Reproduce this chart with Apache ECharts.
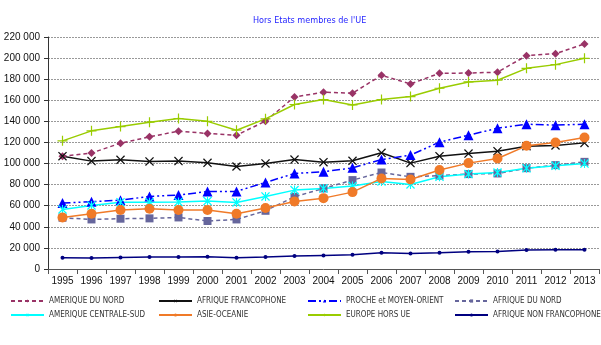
<!DOCTYPE html>
<html>
<head>
<meta charset="utf-8">
<script src="https://cdn.jsdelivr.net/npm/echarts@6/dist/echarts.min.js"></script>
<style>
  html, body { margin: 0; padding: 0; background: #fff; }
  #chart { width: 601px; height: 345px; }
</style>
</head>
<body>
<div id="chart"></div>
<script>
// Years on the x axis
const years = ['1995','1996','1997','1998','1999','2000','2001','2002','2003','2004',
               '2005','2006','2007','2008','2009','2010','2011','2012','2013'];

// Series values, one array per region
const ameriqueNord = [107000,110000,119300,125300,130700,128500,126900,140200,163200,167600,
                      166700,183700,175500,185600,185800,186600,202300,204200,213400];
const afriqueFranco = [107000,102300,103500,102000,102300,100700,97200,100100,103800,101300,
                       102600,110200,100400,107000,109500,111700,116500,117100,119600];
const procheMoyenOrient = [62500,63800,65300,68800,70100,73500,73600,82100,90600,92200,
                           95900,103800,108000,120300,126900,133500,137300,136400,137300];
const afriqueNord = [48600,47000,47700,48000,48900,45500,47000,55200,68500,76400,
                     84300,91500,87400,88500,90000,90600,95600,98500,101600];
const ameriqueCentraleSud = [56500,60300,63400,63400,63600,64400,63100,68800,74800,76400,
                             78600,83000,80200,87400,90000,91500,95600,97900,100000];
const asieOceanie = [48900,52400,55900,57100,55900,55900,52400,57800,64100,67200,
                     72900,85900,84900,93800,100400,104800,116800,120000,124700];
const europeHorsUE = [121500,131000,135100,139200,142700,140000,131600,142400,156000,160700,
                      155600,160700,163500,171400,177400,179000,190300,193800,199800];
const afriqueNonFranco = [10700,10400,11000,11400,11400,11700,10700,11400,12300,12900,
                          13600,15500,14800,15500,16400,16700,18000,18300,18300];

// Y axis ticks
const yMin = 0, yMax = 220000, yStep = 20000;

const seriesNames = ['AMERIQUE DU NORD','AFRIQUE FRANCOPHONE','PROCHE et MOYEN-ORIENT','AFRIQUE DU NORD',
                     'AMERIQUE CENTRALE-SUD','ASIE-OCEANIE','EUROPE HORS UE','AFRIQUE NON FRANCOPHONE'];

// Marker shapes
const crossPath = 'path://M0,1L1,0L5,4L9,0L10,1L6,5L10,9L9,10L5,6L1,10L0,9L4,5Z';
const starPath = 'path://M0,1L1,0L5,4L9,0L10,1L6,5L10,9L9,10L5,6L1,10L0,9L4,5Z M4.4,0L5.6,0L5.6,10L4.4,10Z';
const plusPath = 'path://M4.4,0L5.6,0L5.6,4.4L10,4.4L10,5.6L5.6,5.6L5.6,10L4.4,10L4.4,5.6L0,5.6L0,4.4L4.4,4.4Z';

const condFont = '"DejaVu Sans Condensed", "Liberation Sans", sans-serif';

const fmt = v => String(v).replace(/\B(?=(\d{3})+(?!\d))/g, ' ');

function line(name, data, color, opts) {
  return Object.assign({
    name: name,
    type: 'line',
    data: data,
    symbol: 'circle',
    symbolSize: 6,
    showAllSymbol: true,
    lineStyle: { color: color, width: 1.5, type: 'solid' },
    itemStyle: { color: color },
    emphasis: { disabled: true },
    animation: false
  }, opts);
}

const series = [
  line(seriesNames[0], ameriqueNord, '#993366', { symbol: 'diamond', symbolSize: 8,
       lineStyle: { color: '#993366', width: 1.5, type: [4, 3] } }),
  line(seriesNames[1], afriqueFranco, '#111111', { symbol: crossPath, symbolSize: 9 }),
  line(seriesNames[2], procheMoyenOrient, '#0000FF', { symbol: 'triangle', symbolSize: 10,
       lineStyle: { color: '#0000FF', width: 1.5, type: [8, 3, 2, 3, 2, 3] } }),
  line(seriesNames[3], afriqueNord, '#66669C', { symbol: 'rect', symbolSize: 8,
       lineStyle: { color: '#66669C', width: 1.5, type: [4, 3] } }),
  line(seriesNames[4], ameriqueCentraleSud, '#00FFFF', { symbol: starPath, symbolSize: 9 }),
  line(seriesNames[5], asieOceanie, '#F07A28', { symbol: 'circle', symbolSize: 10 }),
  line(seriesNames[6], europeHorsUE, '#99CC00', { symbol: plusPath, symbolSize: 10 }),
  line(seriesNames[7], afriqueNonFranco, '#000080', { symbol: 'circle', symbolSize: 4 })
];

// Legend in 4 columns, 2 rows
const legendPos = [
  [10, 297], [158, 297], [307, 297], [454, 297],
  [10, 311], [158, 311], [307, 311], [454, 311]
];
const legends = seriesNames.map((name, i) => ({
  data: [name],
  left: legendPos[i][0],
  top: legendPos[i][1],
  itemWidth: 33,
  itemHeight: 4,
  padding: 0,
  textStyle: { fontFamily: condFont, fontSize: 8, color: '#333' },
  selectedMode: false
}));

const chart = echarts.init(document.getElementById('chart'), null, { renderer: 'canvas' });
chart.setOption({
  backgroundColor: '#ffffff',
  animation: false,
  title: {
    text: "Hors Etats membres de l'UE",
    left: 248,
    top: 11,
    textStyle: { fontFamily: condFont, fontSize: 9, fontWeight: 'normal', color: '#1F1FFF' }
  },
  legend: legends,
  grid: { left: 48, right: 2, top: 37, bottom: 76, containLabel: false },
  xAxis: {
    type: 'category',
    data: years,
    boundaryGap: true,
    axisLine: { lineStyle: { color: '#555', width: 1 } },
    axisTick: { show: true, alignWithLabel: false, length: 5, lineStyle: { color: '#555' } },
    axisLabel: { fontFamily: 'Liberation Sans', fontSize: 10, color: '#111', margin: 7 },
    splitLine: { show: false }
  },
  yAxis: {
    type: 'value',
    min: yMin, max: yMax, interval: yStep,
    axisLine: { show: true, lineStyle: { color: '#333', width: 1 } },
    axisTick: { show: true, length: 4, lineStyle: { color: '#333' } },
    axisLabel: { fontFamily: 'Liberation Sans', fontSize: 10, color: '#111', margin: 8, formatter: fmt },
    splitLine: { show: true, lineStyle: { color: '#999', type: [2, 1], width: 1 } }
  },
  series: series
});
</script>
</body>
</html>
